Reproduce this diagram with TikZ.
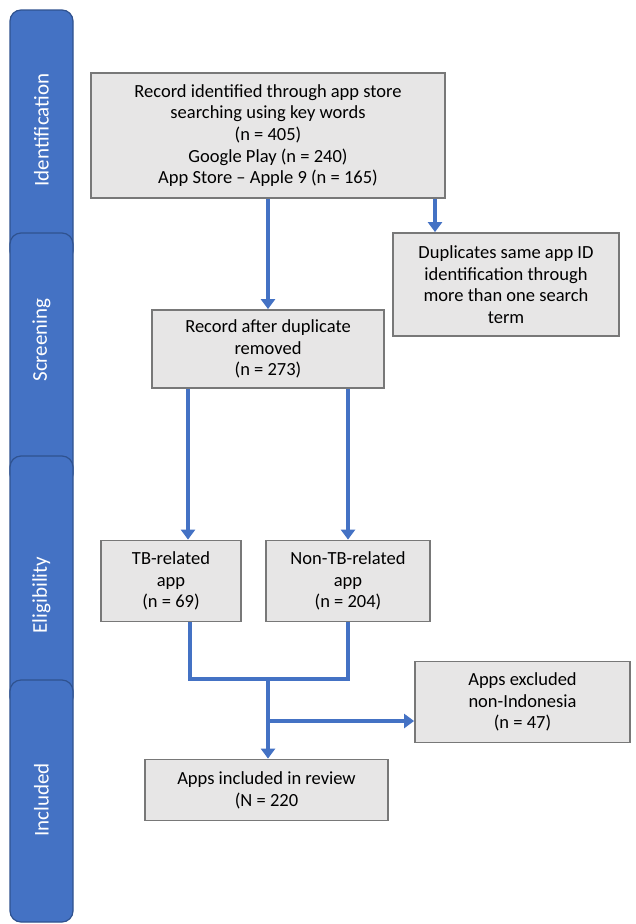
\documentclass[tikz,border=0pt]{standalone}
\usepackage{fontspec}
\setmainfont{Carlito}
\usetikzlibrary{arrows.meta}
\definecolor{barblue}{RGB}{68,114,196}
\definecolor{bardark}{RGB}{47,82,143}
\definecolor{boxgray}{RGB}{231,230,230}
\definecolor{boxedge}{RGB}{120,120,120}
\tikzset{
  bar/.style={fill=barblue,draw=bardark,line width=1.2pt,rounded corners=11pt},
  barlabel/.style={rotate=90,text=white,font=\fontsize{21}{24}\selectfont},
  stagebox/.style={draw=boxedge,fill=boxgray,line width=1.8pt,align=center,
    inner sep=2pt,font=\fontsize{18.5}{21.7}\selectfont},
  flow/.style={draw=barblue,line width=3.6pt},
  flowarrow/.style={flow,-{Triangle[width=14pt,length=10pt]}}
}
\begin{document}
\begin{tikzpicture}[x=1pt,y=-1pt]
  \useasboundingbox (0,0) rectangle (635,924);

  % stage bars on the left
  \filldraw[bar] (10,10) rectangle (73,262);
  \filldraw[bar] (10,233) rectangle (73,485);
  \filldraw[bar] (10,456) rectangle (73,708);
  \filldraw[bar] (10,680) rectangle (73,922);
  \node[barlabel] (lid)  at (41.5,130) {Identification};
  \node[barlabel] (lscr) at (41.5,340) {Screening};
  \node[barlabel] (lel)  at (41.5,595) {Eligibility};
  \node[barlabel] (linc) at (41.5,800) {Included};

  % boxes
  \node[stagebox,minimum width=354pt,minimum height=125pt] (ident) at (268,135.5)
    {Record identified through app store\\searching using key words\\(n = 405)\\Google Play (n = 240)\\App Store -- Apple 9 (n = 165)};
  \node[stagebox,minimum width=226pt,minimum height=103pt] (dup) at (506,284.5)
    {Duplicates same app ID\\identification through\\more than one search\\term};
  \node[stagebox,minimum width=232pt,minimum height=78pt] (screen) at (268,349)
    {Record after duplicate\\removed\\(n = 273)};
  \node[stagebox,minimum width=140pt,minimum height=81pt] (tb) at (171,581)
    {TB-related\\app\\(n = 69)};
  \node[stagebox,minimum width=164pt,minimum height=81pt] (nontb) at (348,581)
    {Non-TB-related\\app\\(n = 204)};
  \node[stagebox,minimum width=215pt,minimum height=81pt] (excl) at (522.5,702)
    {Apps excluded\\non-Indonesia\\(n = 47)};
  \node[stagebox,minimum width=243pt,minimum height=61pt] (incl) at (266.5,790)
    {Apps included in review\\(N = 220};

  % connectors
  \coordinate (dupx) at (435,0);
  \coordinate (tbx) at (188,0);
  \coordinate (tbout) at (190,0);
  \coordinate (join) at (268,679);
  \coordinate (split) at (268,721);
  \draw[flowarrow] (ident.south) -- (screen.north);
  \draw[flowarrow] (ident.south -| dupx) -- (dup.north -| dupx);
  \draw[flowarrow] (screen.south -| tbx) -- (tb.north -| tbx);
  \draw[flowarrow] (screen.south -| nontb) -- (nontb.north);
  \draw[flow] (tb.south -| tbout) -- (join -| tbout) -- (join -| nontb) -- (nontb.south);
  \draw[flowarrow] (join) -- (incl.north -| join);
  \draw[flowarrow] (split) -- (excl.west |- split);
\end{tikzpicture}
\end{document}
